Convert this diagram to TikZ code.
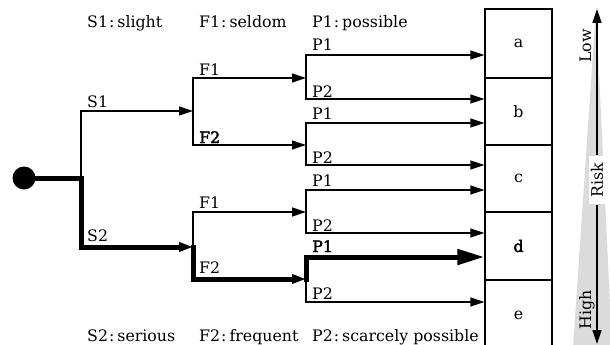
\documentclass[tikz,border=0pt]{standalone}
\usepackage{fontspec}
\setmainfont{DejaVu Serif}
\newfontfamily\heavy{DejaVu Serif}[FakeBold=2.5]
\usetikzlibrary{arrows.meta}
\newcommand\legsep{\kern1pt:\kern3pt}

\begin{document}
\begin{tikzpicture}[x=1pt,y=-1pt,
  every node/.style={font=\fontsize{15.8}{19}\selectfont, inner sep=0pt},
  branch/.style={line width=1.3pt},
  heavyline/.style={line width=5pt},
  tip/.style={-{Triangle[length=14pt,width=9pt]}},
  bigtip/.style={-{Triangle[length=27pt,width=15pt]}},
  lbl/.style={anchor=base west},
  riskbox/.style={draw, line width=1.3pt, minimum width=67pt, inner sep=0pt}
]
\useasboundingbox (0,0) rectangle (610,345);

% risk scale wedge
\fill[black!14] (596,8) -- (612,347) -- (573,347) -- cycle;

% outcome boxes
\node[riskbox, minimum height=69pt] (a) at (518.5,43.5) {a};
\node[riskbox, minimum height=67pt] (b) at (518.5,111.5) {b};
\node[riskbox, minimum height=67pt] (c) at (518.5,178.5) {c};
\node[riskbox, minimum height=68pt] (d) at (518.5,246) {\heavy d};
\node[riskbox, minimum height=70pt] (e) at (518.5,315) {e};

% start point
\node[circle, fill, minimum size=23pt] (root) at (24,178) {};

% branching points
\coordinate (s)   at (81,178);
\coordinate (s1)  at (81,111);
\coordinate (s2)  at (81,247);
\coordinate (fa)  at (193,111);
\coordinate (fa1) at (193,78);
\coordinate (fa2) at (193,145);
\coordinate (fb)  at (193,247);
\coordinate (fb1) at (193,212);
\coordinate (fb2) at (193,279);
\coordinate (pa)  at (306,78);
\coordinate (pa1) at (306,55);
\coordinate (pa2) at (306,99);
\coordinate (pb)  at (306,145);
\coordinate (pb1) at (306,123);
\coordinate (pb2) at (306,165);
\coordinate (pc)  at (306,212);
\coordinate (pc1) at (306,190);
\coordinate (pc2) at (306,233);
\coordinate (pd)  at (306,279);
\coordinate (pd1) at (306,257);
\coordinate (pd2) at (306,302);

% thin branches
\draw[branch, tip] (s) -- (s1) -- (fa);
\draw[branch, tip] (fa) -- (fa1) -- (pa);
\draw[branch, tip] (fa) -- (fa2) -- (pb);
\draw[branch, tip] (pa) -- (pa1) -- (pa1 -| a.west);
\draw[branch, tip] (pa) -- (pa2) -- (pa2 -| b.west);
\draw[branch, tip] (pb) -- (pb1) -- (pb1 -| b.west);
\draw[branch, tip] (pb) -- (pb2) -- (pb2 -| c.west);
\draw[branch, tip] (fb) -- (fb1) -- (pc);
\draw[branch, tip] (pc) -- (pc1) -- (pc1 -| c.west);
\draw[branch, tip] (pc) -- (pc2) -- (pc2 -| d.west);
\draw[branch, tip] (pd) -- (pd2) -- (pd2 -| e.west);

% highlighted path
\draw[heavyline, tip] (root.center) -- (s) -- (s2) -- (fb);
\draw[heavyline, tip, line cap=rect] (fb) -- (fb2) -- (pd);
\draw[heavyline, bigtip, line cap=rect] (pd) -- (pd1) -- (pd1 -| d.west);

% branch labels
\node[lbl] (ls1) at (87,107) {S1};
\node[lbl] (ls2) at (87,241) {S2};
\node[lbl] (lf1a) at (199,75) {F1};
\node[lbl] (lf2a) at (199,143) {\heavy F2};
\node[lbl] (lf1b) at (199,208) {F1};
\node[lbl] (lf2b) at (199,273) {F2};
\node[lbl] (lp1a) at (312,51) {P1};
\node[lbl] (lp2a) at (312,97) {P2};
\node[lbl] (lp1b) at (312,119) {P1};
\node[lbl] (lp2b) at (312,163) {P2};
\node[lbl] (lp1c) at (312,186) {P1};
\node[lbl] (lp2c) at (312,231) {P2};
\node[lbl] (lp1d) at (312,252) {\heavy P1};
\node[lbl] (lp2d) at (312,299) {P2};

% legend
\node[lbl] (gs1) at (87,28) {S1\legsep slight};
\node[lbl] (gf1) at (199,28) {F1\legsep seldom};
\node[lbl] (gp1) at (312,28) {P1\legsep possible};
\node[lbl] (gs2) at (87,341) {S2\legsep serious};
\node[lbl] (gf2) at (199,341) {F2\legsep frequent};
\node[lbl] (gp2) at (312,341) {P2\legsep scarcely possible};

% risk axis
\node[rotate=90, fill=white, inner xsep=7pt, inner ysep=2pt] (risk) at (597,180) {Risk};
\coordinate (top) at (597,9);
\coordinate (bot) at (597,344);
\draw[branch, tip] (risk.east) -- (top);
\draw[branch, tip] (risk.west) -- (bot);
\node[rotate=90, anchor=base] (low) at (591,46) {Low};
\node[rotate=90, anchor=base] (high) at (591,310) {High};
\end{tikzpicture}
\end{document}
